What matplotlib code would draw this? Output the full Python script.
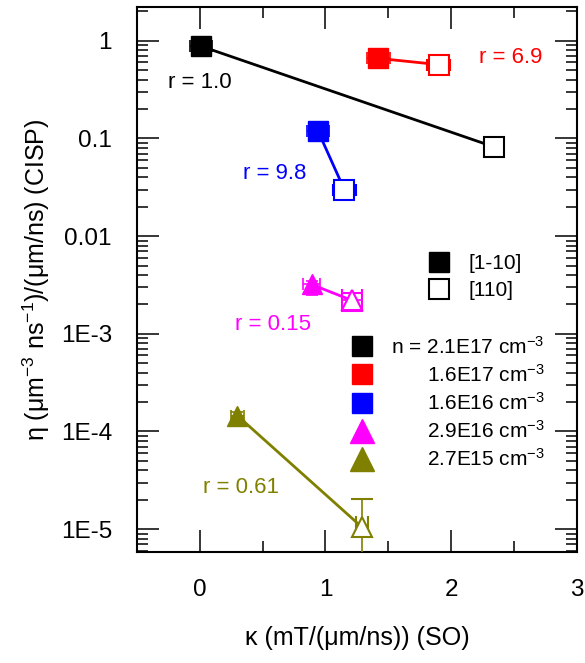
import matplotlib
matplotlib.use("Agg")
import matplotlib.pyplot as plt
from matplotlib.lines import Line2D

plt.rcParams["font.family"] = ["Liberation Sans", "DejaVu Sans"]
plt.rcParams["mathtext.fontset"] = "custom"
plt.rcParams["mathtext.rm"] = "Liberation Sans"
plt.rcParams["mathtext.it"] = "Liberation Sans"
plt.rcParams["mathtext.default"] = "regular"

# samples: (kappa, eta) for [1-10] (filled) and [110] (open)
names = ["n = 2.1E17 cm$^{-3}$", "1.6E17 cm$^{-3}$", "1.6E16 cm$^{-3}$",
         "2.9E16 cm$^{-3}$", "2.7E15 cm$^{-3}$"]
colors = ["#000000", "#ff0000", "#0000ff", "#ff00ff", "#808000"]
markers = ["s", "s", "s", "^", "^"]
kappa_1m10 = [0.01, 1.42, 0.94, 0.89, 0.30]
kappa_110 = [2.34, 1.90, 1.15, 1.21, 1.29]
eta_1m10 = [0.88, 0.66, 0.12, 0.0032, 1.45e-4]
eta_110 = [0.082, 0.57, 0.030, 0.0022, 1.05e-5]
xerr_1m10 = [0.09, 0.09, 0.09, 0.07, 0.05]
xerr_110 = [0.06, 0.09, 0.09, 0.08, 0.05]
yerr_1m10_lo = [0.0, 0.0, 0.0, 0.0007, 2.8e-5]
yerr_1m10_hi = [0.0, 0.0, 0.0, 0.0003, 1.5e-5]
yerr_110_lo = [0.016, 0.06, 0.004, 0.0005, 1.04e-5]
yerr_110_hi = [0.02, 0.06, 0.004, 0.0004, 1.0e-5]
r_labels = ["r = 1.0", "r = 6.9", "r = 9.8", "r = 0.15", "r = 0.61"]
r_pos = [(0.0, 0.37), (2.47, 0.67), (0.60, 0.044), (0.58, 1.25e-3), (0.33, 2.7e-5)]

fig = plt.figure(figsize=(5.85, 6.63), dpi=100)
ax = fig.add_axes([0.234, 0.167, 0.752, 0.822])

for i in range(len(names)):
    c = colors[i]
    ms = 14 if markers[i] == "s" else 15
    ax.plot([kappa_1m10[i], kappa_110[i]], [eta_1m10[i], eta_110[i]],
            color=c, lw=2, zorder=2)
    ax.errorbar(kappa_1m10[i], eta_1m10[i],
                xerr=xerr_1m10[i],
                yerr=[[yerr_1m10_lo[i]], [yerr_1m10_hi[i]]],
                fmt=markers[i], color=c, ms=ms, mfc=c, mec=c,
                elinewidth=1.2, capsize=4, capthick=1.2, zorder=3)
    ax.errorbar(kappa_110[i], eta_110[i],
                xerr=xerr_110[i],
                yerr=[[yerr_110_lo[i]], [yerr_110_hi[i]]],
                fmt=markers[i], color=c, ms=ms, mfc="white", mec=c, mew=1.5,
                elinewidth=1.2, capsize=8 if i in (0, 3, 4) else 4,
                capthick=1.2, zorder=3)
    ax.text(r_pos[i][0], r_pos[i][1], r_labels[i], color=c, fontsize=16,
            ha="center", va="center")

ax.set_yscale("log")
ax.set_xlim(-0.5, 3)
ax.set_ylim(5.8e-6, 2.2)
ax.set_xticks([0, 1, 2, 3])
ax.set_xticks([-0.5, 0.5, 1.5, 2.5], minor=True)
ax.set_yticks([1e-5, 1e-4, 1e-3, 1e-2, 0.1, 1])
ax.set_yticklabels(["1E-5", "1E-4", "1E-3", "0.01", "0.1", "1"])
ax.tick_params(which="both", direction="in", top=True, right=True,
               labelsize=17.5, width=1.1)
ax.tick_params(axis="x", pad=19)
ax.tick_params(axis="y", pad=18)
ax.tick_params(which="major", length=16)
ax.tick_params(which="minor", length=8)
for s in ax.spines.values():
    s.set_linewidth(1.5)

ax.set_xlabel("κ (mT/(μm/ns)) (SO)", fontsize=18, labelpad=18)
ax.set_ylabel("η (μm$^{-3}$ ns$^{-1}$)/(μm/ns) (CISP)", fontsize=18, labelpad=6)

# orientation legend
h1 = [Line2D([], [], ls="none", marker="s", ms=14, color="k"),
      Line2D([], [], ls="none", marker="s", ms=14, mfc="white", mec="k", mew=1.5)]
leg1 = ax.legend(h1, ["[1-10]", "[110]"], loc="upper left",
                 bbox_to_anchor=(0.621, 0.582), frameon=False, fontsize=15,
                 handletextpad=0.9, labelspacing=0.4, handlelength=1.0)
ax.add_artist(leg1)

# density legend
h2 = [Line2D([], [], ls="none", marker=markers[i],
             ms=14 if markers[i] == "s" else 17, color=colors[i])
      for i in range(len(names))]
leg2 = ax.legend(h2, names, loc="upper left", bbox_to_anchor=(0.446, 0.432),
                 frameon=False, fontsize=15, handletextpad=0.9,
                 labelspacing=0.3, handlelength=1.0)
fig.canvas.draw()
renderer = fig.canvas.get_renderer()
texts = leg2.get_texts()
widths = [t.get_window_extent(renderer).width for t in texts]
for t, w in zip(texts, widths):
    t.set_position((max(widths) - w, 0))

fig.savefig("out.png", dpi=100)
